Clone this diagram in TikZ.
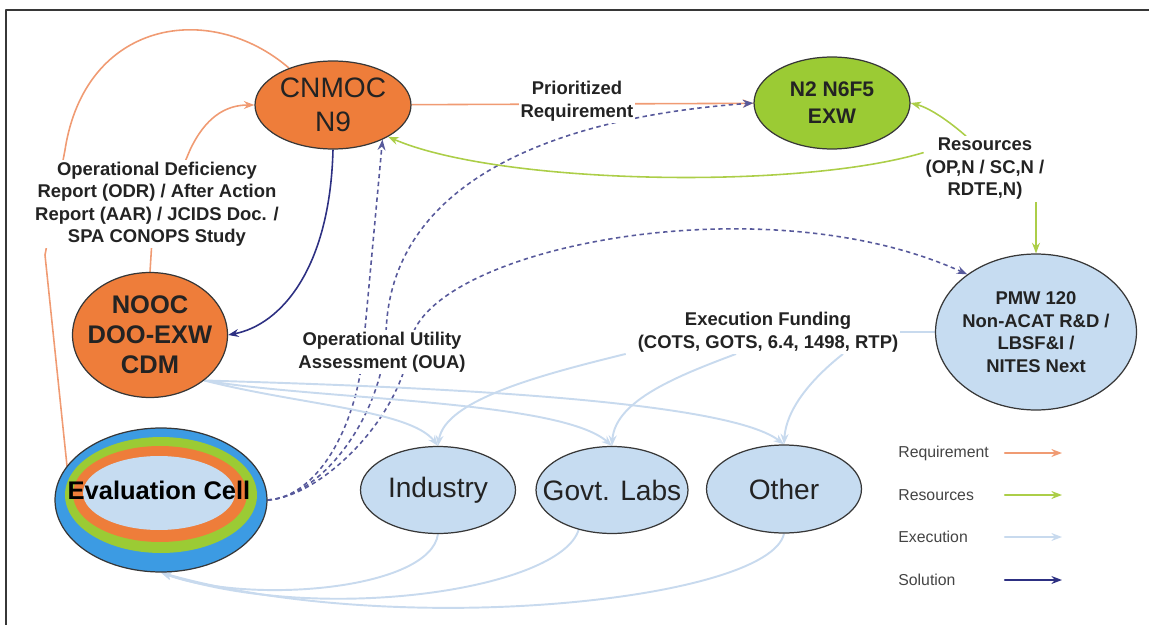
\documentclass[tikz,border=0pt]{standalone}
\usepackage{fontspec}
\setmainfont{Liberation Sans}
\usetikzlibrary{arrows.meta,shapes.geometric,backgrounds}
\definecolor{nodeorange}{RGB}{238,125,58}
\definecolor{nodegreen}{RGB}{155,203,52}
\definecolor{nodeblue}{RGB}{198,220,241}
\definecolor{cellblue}{RGB}{60,155,227}
\definecolor{reqline}{RGB}{240,155,115}
\definecolor{resline}{RGB}{172,206,72}
\definecolor{exeline}{RGB}{200,218,238}
\definecolor{solline}{RGB}{45,48,130}
\definecolor{outline}{RGB}{55,55,55}
\definecolor{txt}{RGB}{35,35,35}

\begin{document}
\begin{tikzpicture}[line cap=round,line join=round,>={Stealth[length=6pt,width=4.5pt]},x=0.02cm,y=-0.02cm,
  blob/.style={ellipse,draw=outline,line width=0.7pt,inner sep=-30pt,text=txt,align=center},
  lbl/.style={fill=white,inner sep=1pt,text=txt,align=center,font=\bfseries\fontsize{10.5}{12.8}\selectfont},
  legtxt/.style={inner sep=0pt,text=txt!85,font=\fontsize{9}{11}\selectfont},
  reqarrow/.style={draw=reqline,line width=0.9pt},
  resarrow/.style={draw=resline,line width=0.9pt},
  exearrow/.style={draw=exeline,line width=1.1pt},
  solarrow/.style={draw=solline,line width=0.9pt},
  soldashed/.style={draw=solline!80,line width=0.9pt,dash pattern=on 2.5pt off 2pt}]
\useasboundingbox (0,0) rectangle (1149,625);
\draw[outline,line width=0.9pt] (6,625) -- (6,10) -- (1149,10);

\node[blob,fill=nodeorange,minimum width=3.12cm,minimum height=1.76cm,font=\fontsize{16}{19.5}\selectfont] (cnmoc) at (333,105) {CNMOC\\N9};
\node[blob,fill=nodegreen,minimum width=3.12cm,minimum height=1.84cm,font=\bfseries\fontsize{12}{15.4}\selectfont] (exw) at (832,103) {N2 N6F5\\EXW};
\node[blob,fill=nodeorange,minimum width=3.1cm,minimum height=2.5cm,font=\bfseries\fontsize{14.5}{17}\selectfont] (nooc) at (150,335) {NOOC\\DOO-EXW\\CDM};
\node[blob,fill=nodeblue,minimum width=4.02cm,minimum height=3.12cm,font=\bfseries\fontsize{10.5}{12.8}\selectfont] (pmw) at (1036,332) {PMW 120\\Non-ACAT R\&D /\\LBSF\&I /\\NITES Next};
\node[blob,fill=cellblue,minimum width=4.24cm,minimum height=2.88cm] (evalcell) at (161,500) {};
\fill[nodegreen] ([yshift=0.1cm]evalcell.center) ellipse [x radius=1.92cm,y radius=1.16cm];
\fill[nodeorange] ([xshift=-0.02cm,yshift=0.12cm]evalcell.center) ellipse [x radius=1.74cm,y radius=0.96cm];
\fill[nodeblue] ([xshift=-0.04cm,yshift=0.14cm]evalcell.center) ellipse [x radius=1.52cm,y radius=0.74cm];
\node[font=\bfseries\fontsize{14.5}{17}\selectfont,text=black] (evaltext) at (159,490) {Evaluation Cell};
\node[blob,fill=nodeblue,minimum width=3.1cm,minimum height=1.74cm,font=\fontsize{16}{19}\selectfont] (industry) at (438,490) {Industry};
\node[blob,fill=nodeblue,minimum width=3.04cm,minimum height=1.74cm,font=\fontsize{16}{19}\selectfont] (govlabs) at (612,490) {Govt. Labs};
\node[blob,fill=nodeblue,minimum width=3.1cm,minimum height=1.76cm,font=\fontsize{16}{19}\selectfont] (other) at (784,489) {Other};

\node[lbl] (odr) at (157,204) {Operational Deficiency\\Report (ODR) / After Action\\Report (AAR) / JCIDS Doc. /\\SPA CONOPS Study};
\node[lbl] (prio) at (577,101) {Prioritized\\Requirement};
\node[lbl] (res) at (985,169) {Resources\\(OP,N / SC,N /\\RDTE,N)};
\node[lbl] (oua) at (382,352) {Operational Utility\\Assessment (OUA)};
\node[lbl] (funding) at (768,332) {Execution Funding\\(COTS, GOTS, 6.4, 1498, RTP)};

\node[legtxt,anchor=west] (lreq) at (898,453) {Requirement};
\node[legtxt,anchor=west] (lres) at (898,495) {Resources};
\node[legtxt,anchor=west] (lexe) at (898,537) {Execution};
\node[legtxt,anchor=west] (lsol) at (898,580) {Solution};
\draw[reqarrow,line width=1.3pt,->] ([xshift=2.14cm]lreq.west) -- ++(57,0);
\draw[resarrow,line width=1.3pt,->] ([xshift=2.14cm]lres.west) -- ++(57,0);
\draw[exearrow,line width=1.3pt,->] ([xshift=2.14cm]lexe.west) -- ++(57,0);
\draw[solarrow,line width=1.3pt,->] ([xshift=2.14cm]lsol.west) -- ++(57,0);

\begin{pgfonlayer}{background}
\draw[reqarrow,->] (cnmoc) -- (exw);
\draw[reqarrow] (evalcell.160) -- (45,255) -- (65,150) .. controls (85,20) and (210,0) .. (cnmoc.140);
\draw[reqarrow,->] (nooc.north) -- (152,240) -- (190,150) .. controls (205,118) and (225,105) .. (cnmoc.west);

\draw[solarrow,->] (cnmoc.south) .. controls (330,270) and (280,325) .. (nooc.east);
\draw[soldashed,->] (evalcell.east) .. controls (320,497) and (360,420) .. (364,340) -- (cnmoc.-35);
\draw[soldashed,->] (evalcell.east) .. controls (320,497) and (380,420) .. (386,340) .. controls (385,200) and (520,120) .. (exw.west);
\draw[soldashed,->] (evalcell.east) .. controls (320,497) and (400,420) .. (410,345) .. controls (420,250) and (760,180) .. (pmw.140);

\draw[resarrow,->] (res.120) .. controls (950,122) and (930,108) .. (exw.east);
\draw[resarrow,->] (res.165) .. controls (800,190) and (500,185) .. (cnmoc.-30);
\draw[resarrow,->] (pmw.north |- res.south) -- (pmw.north);

\draw[exearrow] (pmw.west) -- (funding.east);
\draw[exearrow,->] ([xshift=-0.2cm]funding.south west) .. controls (540,375) and (445,400) .. (industry.north);
\draw[exearrow,->] ([xshift=-0.64cm]funding.south) .. controls (680,375) and (615,400) .. (govlabs.north);
\draw[exearrow,->] ([xshift=1.5cm]funding.south) .. controls (810,380) and (786,410) .. (other.north);
\draw[exearrow,->] (nooc.-40) .. controls (300,405) and (410,410) .. (industry.north);
\draw[exearrow,->] (nooc.-40) .. controls (320,400) and (560,400) .. (govlabs.north);
\draw[exearrow,->] (nooc.-40) .. controls (350,385) and (720,395) .. (other.north);
\draw[exearrow,->] (industry.south) .. controls (430,590) and (250,605) .. (evalcell.south);
\draw[exearrow,->] (govlabs.-130) .. controls (560,590) and (320,625) .. (evalcell.south);
\draw[exearrow,->] (other.south) .. controls (770,600) and (400,640) .. (evalcell.south);
\end{pgfonlayer}
\end{tikzpicture}
\end{document}
